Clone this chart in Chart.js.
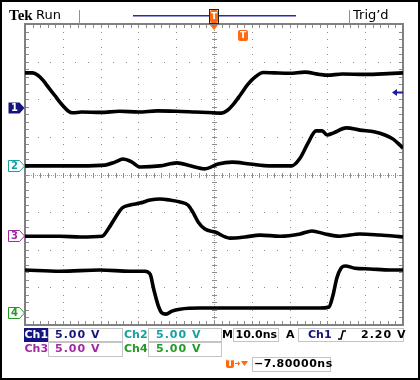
<!DOCTYPE html>
<html><head><meta charset="utf-8">
<script src="https://cdn.jsdelivr.net/npm/chart.js@4/dist/chart.umd.min.js"></script>
<style>html,body{margin:0;padding:0;background:#fff;}</style>
</head><body>
<canvas id="c" width="420" height="380"></canvas>
<script>
// Time axis: ns across 10 divisions (10.0 ns/div). Vertical values in screen divisions (-4..4).
const ch1Time = [0,2,3.4,4.8,6.3,7.9,9,10.1,11.4,12.6,15,20,25,30,35,40,45,50,52,53.5,55,57,59,61,63,66,70,74,78,80,84,90,96,100];
const ch1Div  = [2.70,2.70,2.64,2.50,2.30,2.10,1.95,1.82,1.69,1.64,1.66,1.65,1.68,1.66,1.69,1.68,1.66,1.64,1.63,1.70,1.85,2.12,2.40,2.60,2.71,2.70,2.69,2.72,2.66,2.64,2.67,2.66,2.68,2.70];
const ch2Time = [0,6.6,14.6,21.2,23.8,25.9,28.3,30.4,35.7,40.2,43.7,47.6,51.1,54.8,59.5,64.8,70.6,72.8,74.9,77.0,78.6,79.9,81.5,85.0,88.6,92.6,95.2,97.4,99.2,100];
const ch2Div  = [0.23,0.23,0.23,0.25,0.33,0.41,0.33,0.20,0.23,0.31,0.23,0.15,0.28,0.33,0.28,0.23,0.23,0.44,0.84,1.16,1.16,1.05,1.10,1.24,1.18,1.13,1.05,0.94,0.78,0.70];
const ch3Time = [0,9.3,14.6,20.4,22.0,23.8,25.7,27.8,30.4,33.1,35.7,38.4,41.0,43.1,44.4,45.8,47.6,50.3,54.2,58.2,62.2,67.5,72.8,75.9,79.4,83.3,88.6,93.9,100];
const ch3Div  = [-1.64,-1.64,-1.66,-1.64,-1.45,-1.16,-0.89,-0.81,-0.76,-0.68,-0.65,-0.68,-0.73,-0.81,-1.00,-1.26,-1.45,-1.53,-1.69,-1.66,-1.61,-1.64,-1.58,-1.50,-1.58,-1.64,-1.58,-1.61,-1.66];
const ch4Time = [0,9.3,19.8,27.8,31.7,33.1,34.1,35.2,36.2,37.3,38.9,41.0,46.3,54.2,62.2,70.1,78.0,80.4,81.5,82.5,83.6,84.7,87.3,91.3,96.6,100];
const ch4Div  = [-2.54,-2.57,-2.54,-2.57,-2.57,-2.65,-3.07,-3.47,-3.68,-3.71,-3.63,-3.58,-3.55,-3.55,-3.55,-3.55,-3.55,-3.52,-3.20,-2.75,-2.49,-2.43,-2.49,-2.51,-2.54,-2.54];
const groundDiv = [1.77, 0.23, -1.63, -3.68];
const channelNames = ['1','2','3','4'];
const channelColors = ['#14147f','#17a0a0','#a326a3','#239a23'];
const trigLevelDiv = 2.19;
const scaleLabels = ['5.00 V','5.00 V','5.00 V','5.00 V'];
const timebase = '10.0ns';
const trigText = ['Ch1','2.20 V'];
const positionText = '\u22127.80000ns';

function pts(t, v){ return t.map((x,i)=>({x:x, y:v[i]})); }
function ds(t,v){ return {data:pts(t,v), borderColor:'#000', borderWidth:3.6, pointRadius:0, cubicInterpolationMode:'monotone', fill:false}; }

const grid = {
  id:'grid',
  beforeDatasetsDraw(chart){
    const {ctx, chartArea:a, scales:{x,y}} = chart;
    ctx.save();
    ctx.fillStyle = '#8c8c8c';
    for (let i=1;i<10;i++){ if(i===5) continue;
      const px = Math.round(x.getPixelForValue(i*10));
      for (let j=0;j<=40;j++){ const py = Math.round(y.getPixelForValue(-4+j*0.2)); ctx.fillRect(px,py,1,1); }
    }
    for (let j=1;j<8;j++){ if(j===4) continue;
      const py = Math.round(y.getPixelForValue(-4+j));
      for (let i=0;i<=30;i++){ const px = Math.round(x.getPixelForValue(i*10/3)); ctx.fillRect(px,py,1,1); }
    }
    const cx = Math.round(x.getPixelForValue(50)), cy = Math.round(y.getPixelForValue(0));
    ctx.fillStyle = '#a0a0a0';
    for (let py=a.top; py<=a.bottom; py+=2) ctx.fillRect(cx,py,1,1);
    for (let px=a.left; px<=a.right; px+=2) ctx.fillRect(px,cy,1,1);
    ctx.fillStyle = '#8c8c8c';
    for (let j=0;j<=40;j++){ const py=Math.round(y.getPixelForValue(-4+j*0.2)); ctx.fillRect(cx-2,py,5,1); }
    for (let i=0;i<=50;i++){ const px=Math.round(x.getPixelForValue(i*2)); ctx.fillRect(px,cy-2,1,5); }
    for (let i=0;i<=50;i++){ const px=Math.round(x.getPixelForValue(i*2)); ctx.fillRect(px,a.top,1,4); ctx.fillRect(px,a.bottom-4,1,4); }
    for (let j=0;j<=40;j++){ const py=Math.round(y.getPixelForValue(-4+j*0.2)); ctx.fillRect(a.left,py,4,1); ctx.fillRect(a.right-4,py,4,1); }
    ctx.strokeStyle = '#808080'; ctx.lineWidth = 2;
    ctx.strokeRect(a.left, a.top, a.right-a.left, a.bottom-a.top);
    ctx.restore();
  },
  afterDraw(chart){
    const {ctx, chartArea:a, scales:{x,y}} = chart;
    ctx.save();
    ctx.strokeStyle = '#000'; ctx.lineWidth = 2; ctx.strokeRect(1,1,418,378);
    ctx.textBaseline = 'middle';
    ctx.fillStyle = '#000';
    ctx.font = 'bold 15px "Liberation Serif"'; ctx.fillText('Tek', 9, 16);
    ctx.font = '13px "DejaVu Sans"'; ctx.fillText('Run', 36, 16);
    ctx.fillText('Trig\u2019d', 353, 16);
    ctx.fillStyle = '#909090'; ctx.fillRect(79,10,1,14); ctx.fillRect(349,10,1,14);
    ctx.fillStyle = '#2a2aa8'; ctx.fillRect(133,15,163,1.5);
    const cx = x.getPixelForValue(50);
    function tIcon(x0,y0,w,h,outline){
      ctx.fillStyle = '#ff6a10';
      ctx.beginPath(); ctx.roundRect(x0,y0,w,h,2); ctx.fill();
      if (outline){ ctx.strokeStyle='#222'; ctx.lineWidth=1; ctx.strokeRect(x0-0.5,y0-0.5,w+1,h+1); }
      ctx.fillStyle = '#fff'; ctx.font = 'bold 9px "DejaVu Sans"'; ctx.textAlign='center';
      ctx.fillText('T', x0+w/2, y0+h/2+0.5); ctx.textAlign='left';
    }
    tIcon(cx-4,10,8,13,true);
    ctx.fillStyle = '#ff6a10';
    ctx.beginPath(); ctx.moveTo(cx-4,25); ctx.lineTo(cx+4,25); ctx.lineTo(cx,30); ctx.closePath(); ctx.fill();
    tIcon(238,30,10,11,false);
    groundDiv.forEach((g,i)=>{
      const py = Math.round(y.getPixelForValue(g));
      const col = channelColors[i];
      ctx.beginPath();
      ctx.moveTo(8.5,py-5.5); ctx.lineTo(19.5,py-5.5); ctx.lineTo(24.5,py); ctx.lineTo(19.5,py+5.5); ctx.lineTo(8.5,py+5.5); ctx.closePath();
      if (i===0){ ctx.fillStyle = col; ctx.fill(); ctx.fillStyle = '#fff'; }
      else { ctx.fillStyle = '#fff'; ctx.fill(); ctx.strokeStyle = col; ctx.lineWidth = 1; ctx.stroke(); ctx.fillStyle = col; }
      ctx.font = 'bold 10px "DejaVu Sans"'; ctx.textAlign='center';
      ctx.fillText(channelNames[i], 14.5, py+0.5); ctx.textAlign='left';
    });
    const ty = Math.round(y.getPixelForValue(trigLevelDiv));
    ctx.fillStyle = '#1c1c9a';
    ctx.fillRect(396, ty-0.5, 7, 2);
    ctx.beginPath(); ctx.moveTo(392,ty+0.5); ctx.lineTo(397,ty-3); ctx.lineTo(397,ty+4); ctx.closePath(); ctx.fill();
    function box(x0,y0,w,h){ ctx.strokeStyle='#c4c4c4'; ctx.lineWidth=1; ctx.strokeRect(x0+0.5,y0+0.5,w,h); }
    function txt(s,x0,y0,col,sp){ ctx.letterSpacing = (sp||0)+'px'; ctx.fillStyle=col; ctx.font='bold 11px "DejaVu Sans"'; ctx.fillText(s,x0,y0); ctx.letterSpacing='0px'; }
    const r1 = 335, r2 = 349, r3 = 364;
    ctx.fillStyle = channelColors[0]; ctx.fillRect(24,328,24,14);
    txt('Ch1',24.5,r1,'#fff');
    box(48,328,74,13); txt(scaleLabels[0],55,r1,channelColors[0],1);
    txt('Ch2',124,r1,channelColors[1]);
    box(148,328,73,13); txt(scaleLabels[1],156,r1,channelColors[1],1);
    txt('M',222,r1,'#000');
    box(233,328,45,13); txt(timebase,235.5,r1,'#000');
    txt('A',286,r1,'#000');
    box(298,328,105,13); txt(trigText[0],308,r1,channelColors[0]);
    ctx.strokeStyle='#000'; ctx.lineWidth=1.6; ctx.beginPath();
    ctx.moveTo(338,r1+4); ctx.lineTo(341,r1+4); ctx.lineTo(343,r1-4); ctx.lineTo(346,r1-4); ctx.stroke();
    txt(trigText[1],361,r1,'#000',1);
    txt('Ch3',24.5,r2,channelColors[2]);
    box(48,342,74,14); txt(scaleLabels[2],55,r2,channelColors[2],1);
    txt('Ch4',124,r2,channelColors[3]);
    box(148,342,73,14); txt(scaleLabels[3],156,r2,channelColors[3],1);
    tIcon(226,359,8,9,false);
    ctx.fillStyle = '#ff6a10'; ctx.fillRect(235,363,4,1);
    ctx.beginPath(); ctx.moveTo(238,361); ctx.lineTo(240,363.5); ctx.lineTo(238,366); ctx.fill();
    ctx.beginPath(); ctx.moveTo(241,361); ctx.lineTo(248,361); ctx.lineTo(244.5,366); ctx.closePath(); ctx.fill();
    box(252,357,78,14); txt(positionText,254,r3,'#000',0.5);
    ctx.restore();
  }
};

new Chart(document.getElementById('c'), {
  type:'line',
  data:{ datasets:[ds(ch1Time,ch1Div), ds(ch2Time,ch2Div), ds(ch3Time,ch3Div), ds(ch4Time,ch4Div)] },
  options:{
    responsive:false, animation:false, devicePixelRatio:1,
    layout:{ padding:{left:25, right:17, top:24, bottom:55} },
    plugins:{ legend:{display:false}, tooltip:{enabled:false} },
    scales:{
      x:{ type:'linear', min:0, max:100, display:false },
      y:{ type:'linear', min:-4, max:4, display:false }
    }
  },
  plugins:[grid]
});
</script>
</body></html>
